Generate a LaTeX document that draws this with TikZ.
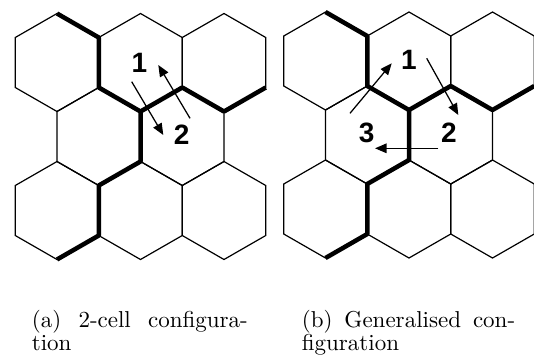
\documentclass[tikz,border=0pt]{standalone}
\usepackage{fontspec}
\usetikzlibrary{arrows.meta}
\newfontfamily\numfont{Liberation Sans}
\font\capfont="[lmroman10-regular]" at 23pt

\tikzset{
  cell/.style={draw=black, line width=1.2pt, line join=miter},
  wall/.style={draw=black, line width=4.5pt, line join=round},
  move/.style={draw=black, line width=1.25pt, -{Triangle[length=11.5pt,width=9.5pt]}},
  num/.style={font=\numfont\bfseries\fontsize{28}{28}\selectfont, inner sep=0pt},
  capline/.style={font=\capfont, inner sep=0pt, anchor=base west},
  % one pointy-topped hexagonal cell
  hexcell/.pic={\draw[cell] (0,-49) -- (41.75,-25) -- (41.75,25) -- (0,49)
                 -- (-41.75,25) -- (-41.75,-25) -- cycle;},
  % a 3-2-3 board of cells with its two thick walls
  board/.pic={
    \foreach \cx in {57,140.5,224} {
      \pic at (\cx,62.5) {hexcell};
      \pic at (\cx,210.5) {hexcell};
    }
    \foreach \cx in {98.75,182.25} \pic at (\cx,136.5) {hexcell};
    \draw[wall] (57,13.5) -- (98.75,37.5) -- (98.75,87.5) -- (140.5,111.5)
      -- (140.5,161.5) -- (98.75,185.5) -- (98.75,235.5) -- (57,259.5);
    \draw[wall] (140.5,111.5) -- (182.25,87.5) -- (224,111.5) -- (265.75,87.5);
  },
}

\begin{document}
\begin{tikzpicture}[x=1pt, y=-1pt]
  \useasboundingbox (0,0) rectangle (534,360);

  % boards
  \pic at (0,0) {board};
  \pic at (268.5,-1.5) {board};

  % (a) two-cell exchange
  \node[num] (a1) at (139.5,63.3) {1};
  \node[num] (a2) at (181.7,135) {2};
  \coordinate (a1from) at (190,118.3);
  \coordinate (a1to)   at (158.3,65);
  \coordinate (a2from) at (131.7,81.7);
  \coordinate (a2to)   at (163.3,135);
  \draw[move] (a1from) -- (a1to);
  \draw[move] (a2from) -- (a2to);

  % (b) three-cell cycle
  \node[num] (b1) at (409,60) {1};
  \node[num] (b2) at (449,132.5) {2};
  \node[num] (b3) at (366.7,132.5) {3};
  \coordinate (b31from) at (350,113.3);
  \coordinate (b31to)   at (391.7,63.3);
  \coordinate (b12from) at (426.7,58.3);
  \coordinate (b12to)   at (458.3,115);
  \coordinate (b23from) at (438.3,148.3);
  \coordinate (b23to)   at (375,148.3);
  \draw[move] (b31from) -- (b31to);
  \draw[move] (b12from) -- (b12to);
  \draw[move] (b23from) -- (b23to);

  % captions
  \node[capline] (capa1) at (31.7,327) {\makebox[216pt][s]{(a) 2-cell configura-}};
  \node[capline] (capa2) at (31.7,350) {tion};
  \node[capline] (capb1) at (301.7,327) {\makebox[213.3pt][s]{(b) Generalised con-}};
  \node[capline] (capb2) at (301.7,350) {figuration};
\end{tikzpicture}
\end{document}
